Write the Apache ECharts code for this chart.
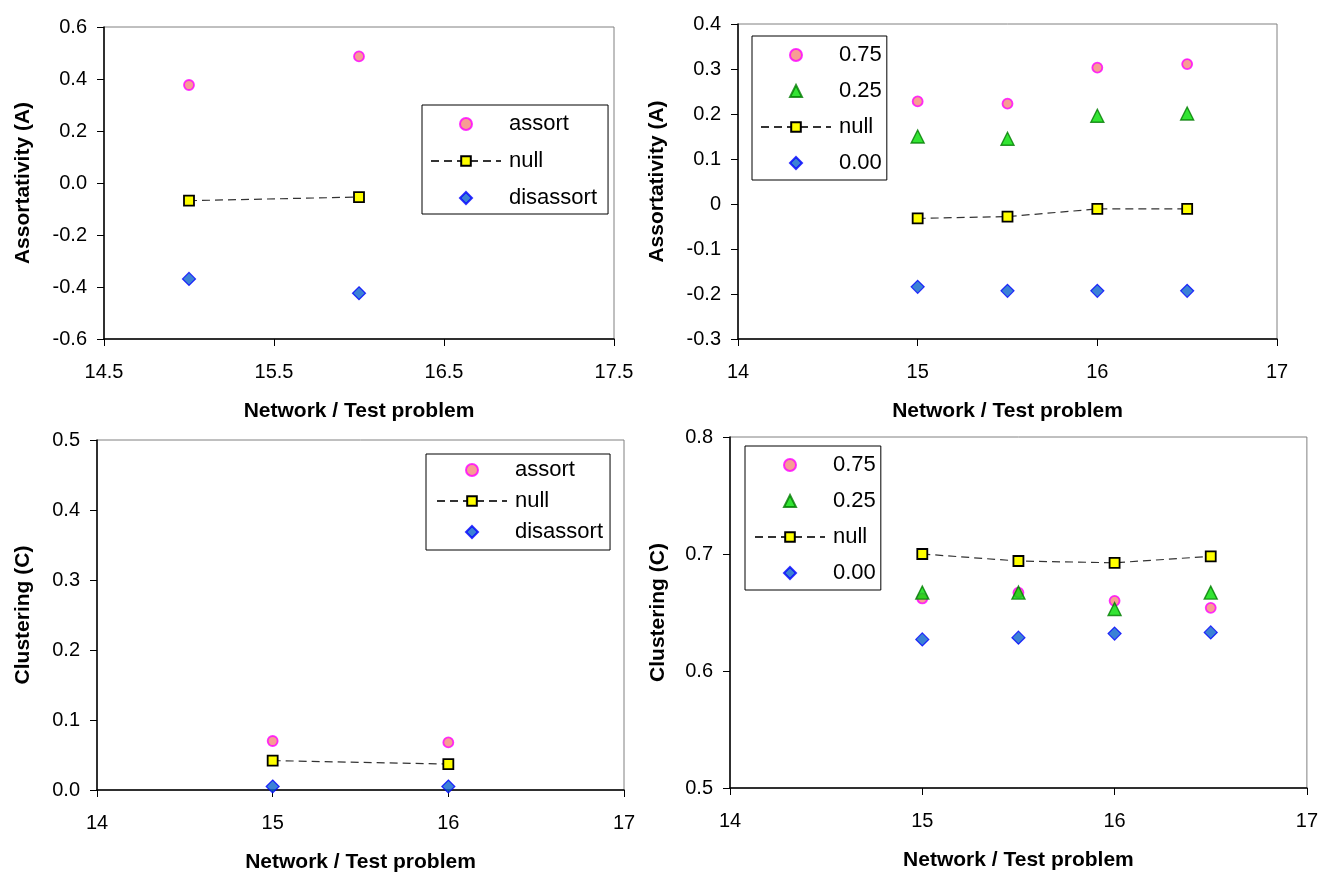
<!DOCTYPE html>
<html>
<head>
<meta charset="utf-8">
<script src="https://cdn.jsdelivr.net/npm/echarts@6/dist/echarts.min.js"></script>
<style>
  html, body { margin: 0; padding: 0; background: #fff; }
  #chart { width: 1321px; height: 874px; }
</style>
</head>
<body>
<div id="chart"></div>
<script>
// --- data ---
// top-left / bottom-left: two networks
const netX = [15, 16];
const assortA = [0.377, 0.487];
const nullA = [-0.068, -0.054];
const disassortA = [-0.369, -0.424];
const assortC = [0.070, 0.068];
const nullC = [0.042, 0.037];
const disassortC = [0.005, 0.005];

// top-right / bottom-right: four test problems
const probX = [15, 15.5, 16, 16.5];
const p075A = [0.228, 0.223, 0.303, 0.311];
const p025A = [0.150, 0.145, 0.196, 0.201];
const pNullA = [-0.032, -0.028, -0.011, -0.011];
const p000A = [-0.184, -0.193, -0.193, -0.193];
const p075C = [0.662, 0.667, 0.660, 0.654];
const p025C = [0.667, 0.667, 0.653, 0.667];
const pNullC = [0.700, 0.694, 0.6925, 0.698];
const p000C = [0.627, 0.6285, 0.632, 0.633];

const topLeftXTicks = [14.5, 15.5, 16.5, 17.5];
const legendNet = ["assort", "null", "disassort"];
const legendProb = ["0.75", "0.25", "null", "0.00"];

const FONT = "'Liberation Sans', Arial, sans-serif";

const pairs = (xs, ys) => xs.map((x, i) => [x, ys[i]]);

// path symbols so the legend keeps their aspect
const DIAMOND = "path://M5,0L10,5L5,10L0,5Z";
const TRIANGLE = "path://M5,0L10,10L0,10Z";

const circle = { symbol: "circle", symbolSize: 10, itemStyle: { color: "#F58578", borderColor: "#FF00FF", borderWidth: 1.8 } };
const square = { symbol: "rect", symbolSize: 10, itemStyle: { color: "#FFFF00", borderColor: "#000", borderWidth: 1.8 } };
const diamond = { symbol: DIAMOND, symbolSize: 13, symbolKeepAspect: true, itemStyle: { color: "#0A62CC", borderColor: "#0000FF", borderWidth: 1.2 } };
const triangle = { symbol: TRIANGLE, symbolSize: 13, symbolKeepAspect: true, itemStyle: { color: "#00DD00", borderColor: "#007A00", borderWidth: 1.4 } };

function scatter(name, idx, data, style) {
  return Object.assign({ name, type: "scatter", xAxisIndex: idx, yAxisIndex: idx, data, z: 3 }, style);
}
function nullLine(name, idx, data) {
  return Object.assign({
    name, type: "line", xAxisIndex: idx, yAxisIndex: idx, data, z: 2,
    showSymbol: true,
    lineStyle: { color: "#333", width: 1.2, type: [8, 5] },
  }, square);
}

function xAxis(idx, min, max, extra) {
  return Object.assign({
    type: "value", gridIndex: idx, min, max,
    name: "Network / Test problem", nameLocation: "middle", nameGap: 62,
    nameTextStyle: { fontFamily: FONT, fontSize: 21, fontWeight: "bold", color: "#000" },
    axisLine: { onZero: false, lineStyle: { color: "#000", width: 1.5 } },
    axisTick: { show: true, length: 7, lineStyle: { color: "#000" } },
    axisLabel: { margin: 23, fontFamily: FONT, fontSize: 20, color: "#000" },
    splitLine: { show: false },
  }, extra);
}
function yAxis(idx, name, min, max, interval, gap, fmt) {
  return {
    type: "value", gridIndex: idx, min, max, interval,
    name, nameLocation: "middle", nameGap: gap,
    nameTextStyle: { fontFamily: FONT, fontSize: 21, fontWeight: "bold", color: "#000" },
    axisLine: { show: true, lineStyle: { color: "#000", width: 1.5 } },
    axisTick: { show: true, length: 7, lineStyle: { color: "#000" } },
    axisLabel: { margin: 17, fontFamily: FONT, fontSize: 20, color: "#000", formatter: fmt },
    splitLine: { show: false },
  };
}
function legend(names, left, top, gap, padding) {
  return {
    data: names, orient: "vertical", left, top, itemGap: gap, padding,
    itemWidth: 70, itemHeight: 12,
    backgroundColor: "#fff", borderColor: "#000", borderWidth: 1,
    textStyle: { fontFamily: FONT, fontSize: 22, color: "#000", padding: [0, 0, 0, 3] },
    selectedMode: false,
  };
}

const gridBase = { show: true, borderColor: "#808080", borderWidth: 1, backgroundColor: "#fff", containLabel: false };

const option = {
  animation: false,
  backgroundColor: "#fff",
  grid: [
    Object.assign({ left: 104, top: 27, width: 510, height: 312 }, gridBase),
    Object.assign({ left: 738, top: 24, width: 539, height: 315 }, gridBase),
    Object.assign({ left: 97, top: 440, width: 527, height: 351 }, gridBase),
    Object.assign({ left: 730, top: 437, width: 577, height: 351 }, gridBase),
  ],
  xAxis: [
    xAxis(0, 14.5, 17.5, {
      axisTick: { show: true, length: 7, lineStyle: { color: "#000" }, customValues: topLeftXTicks },
      axisLabel: { margin: 23, fontFamily: FONT, fontSize: 20, color: "#000", customValues: topLeftXTicks,
        formatter: (v) => v.toFixed(1) },
    }),
    xAxis(1, 14, 17, { interval: 1 }),
    xAxis(2, 14, 17, { interval: 1 }),
    xAxis(3, 14, 17, { interval: 1 }),
  ],
  yAxis: [
    yAxis(0, "Assortativity (A)", -0.6, 0.6, 0.2, 70, (v) => v.toFixed(1)),
    yAxis(1, "Assortativity (A)", -0.3, 0.4, 0.1, 70, (v) => String(Math.round(v * 10) / 10)),
    yAxis(2, "Clustering (C)", 0, 0.5, 0.1, 63, (v) => v.toFixed(1)),
    yAxis(3, "Clustering (C)", 0.5, 0.8, 0.1, 61, (v) => String(Math.round(v * 10) / 10)),
  ],
  legend: [
    legend(legendNet, 422, 105, 15, [8, 11, 5, 8]),
    legend(legendProb, 752, 36, 14, [8, 5, 6, 8]),
    legend(legendNet, 426, 454, 9, [5, 7, 7, 10]),
    legend(legendProb, 745, 446, 14, [8, 5, 6, 9]),
  ],
  series: [
    scatter("assort", 0, pairs(netX, assortA), circle),
    nullLine("null", 0, pairs(netX, nullA)),
    scatter("disassort", 0, pairs(netX, disassortA), diamond),

    scatter("0.75", 1, pairs(probX, p075A), circle),
    scatter("0.25", 1, pairs(probX, p025A), triangle),
    nullLine("null", 1, pairs(probX, pNullA)),
    scatter("0.00", 1, pairs(probX, p000A), diamond),

    scatter("assort", 2, pairs(netX, assortC), circle),
    nullLine("null", 2, pairs(netX, nullC)),
    scatter("disassort", 2, pairs(netX, disassortC), diamond),

    scatter("0.75", 3, pairs(probX, p075C), circle),
    scatter("0.25", 3, pairs(probX, p025C), triangle),
    nullLine("null", 3, pairs(probX, pNullC)),
    scatter("0.00", 3, pairs(probX, p000C), diamond),
  ],
};

const chart = echarts.init(document.getElementById("chart"), null, { renderer: "canvas" });
chart.setOption(option);
</script>
</body>
</html>
